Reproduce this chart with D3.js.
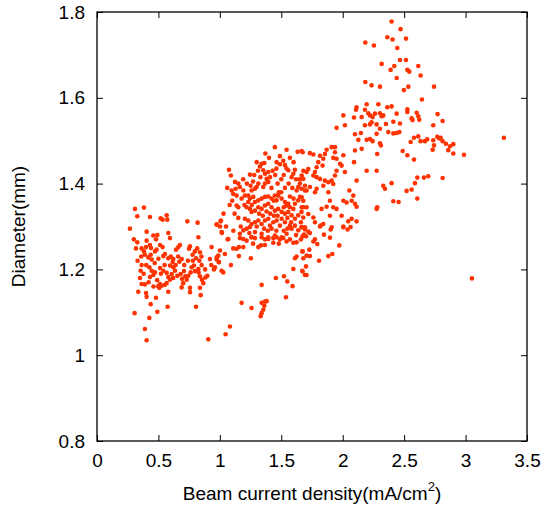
<!DOCTYPE html>
<html>
<head>
<meta charset="utf-8">
<script src="https://cdn.jsdelivr.net/npm/d3@7"></script>
<style>
  html, body { margin: 0; padding: 0; background: #fff; }
  svg { display: block; font-family: "Liberation Sans", Arial, sans-serif; }
</style>
</head>
<body>
<svg id="chart" width="544" height="506"></svg>
<script>
// ---- Data (beam current density mA/cm^2, diameter mm) ----
const xTicks = [0, 0.5, 1, 1.5, 2, 2.5, 3, 3.5];
const yTicks = [0.8, 1, 1.2, 1.4, 1.6, 1.8];
const xLabel = "Beam current density(mA/cm";
const xLabelSup = "2";
const yLabel = "Diameter(mm)";

const lowGroup = [
[0.309,1.341],[0.382,1.344],[0.328,1.324],[0.431,1.322],[0.518,1.319],[0.534,1.316],[0.567,1.326],[0.572,1.316],[0.268,1.295],[0.735,1.312],[0.819,1.309],[0.974,1.304],
[0.404,1.288],[0.458,1.279],[0.491,1.280],[0.580,1.285],[0.594,1.273],[0.825,1.275],[0.328,1.263],[0.404,1.267],[0.431,1.257],[0.399,1.252],[0.513,1.257],[0.534,1.252],[0.485,1.246],[0.472,1.242],[0.675,1.257],[0.662,1.252],[0.643,1.246],[0.757,1.254],[0.749,1.248],[0.816,1.249],[0.797,1.242],[0.838,1.240],[0.933,1.252],[0.317,1.249],[0.363,1.249],
[0.382,1.242],[0.390,1.234],[0.418,1.228],[0.437,1.234],[0.445,1.223],[0.553,1.236],[0.540,1.231],[0.580,1.226],[0.616,1.217],[0.621,1.224],[0.689,1.224],[0.670,1.218],[0.778,1.234],[0.806,1.226],[0.833,1.220],[0.852,1.210],[0.974,1.228],[0.990,1.217],[0.919,1.224],[0.363,1.210],[0.355,1.197],[0.960,1.205],[0.952,1.200],
[0.426,1.205],[0.445,1.197],[0.458,1.187],[0.431,1.182],[0.472,1.193],[0.513,1.203],[0.540,1.197],[0.567,1.192],[0.594,1.209],[0.621,1.205],[0.635,1.197],[0.608,1.189],[0.580,1.182],[0.594,1.176],[0.567,1.168],[0.553,1.164],[0.526,1.162],[0.507,1.157],[0.654,1.185],[0.681,1.189],[0.708,1.196],[0.719,1.184],[0.692,1.178],[0.702,1.168],[0.730,1.176],[0.743,1.185],[0.762,1.193],[0.770,1.205],[0.789,1.209],[0.797,1.196],[0.827,1.193],[0.838,1.184],[0.854,1.176],[0.865,1.168],[0.882,1.181],[0.898,1.185],[0.825,1.201],
[0.363,1.166],[0.390,1.165],[0.336,1.148],[0.399,1.145],[0.404,1.136],[0.480,1.134],[0.513,1.166],[0.499,1.161],[0.580,1.148],[0.689,1.158],[0.757,1.157],[0.757,1.147],[0.838,1.157],[0.844,1.140],
[0.437,1.119],[0.491,1.101],[0.575,1.113],[0.806,1.113],[0.306,1.098],[0.426,1.087],[0.390,1.061],[0.404,1.035],[0.906,1.037],
[0.974,1.305],[1.006,1.312],[1.017,1.285],
[0.36,1.23],[0.40,1.21],[0.44,1.25],[0.47,1.215],[0.50,1.225],[0.52,1.19],[0.49,1.175],[0.46,1.16],[0.42,1.17],[0.38,1.19],[0.35,1.18],[0.33,1.22],[0.30,1.27],[0.48,1.27],[0.55,1.21],[0.60,1.23],[0.64,1.21],[0.66,1.23],[0.71,1.21],[0.74,1.22],[0.78,1.22],[0.85,1.23],[0.88,1.20],[0.93,1.21],[0.62,1.18]
];

const midGroup = [
[1.448,1.485],[1.543,1.479],[1.633,1.474],[1.665,1.476],[1.489,1.464],[1.340,1.446],[1.362,1.448],[1.326,1.440],[1.462,1.450],[1.489,1.445],[1.516,1.453],[1.530,1.443],[1.543,1.435],[1.557,1.431],[1.611,1.432],[1.598,1.423],[1.584,1.415],
[1.074,1.432],[1.090,1.419],[1.245,1.421],[1.353,1.431],[1.367,1.423],[1.394,1.427],[1.408,1.415],[1.381,1.411],[1.394,1.404],[1.367,1.400],[1.353,1.392],[1.313,1.400],[1.299,1.392],[1.286,1.388],[1.258,1.384],
[1.123,1.404],[1.150,1.400],[1.163,1.392],[1.128,1.388],[1.096,1.384],[1.109,1.376],[1.136,1.372],[1.191,1.384],[1.204,1.372],[1.177,1.365],[1.231,1.372],[1.245,1.365],[1.272,1.369],[1.286,1.357],[1.313,1.361],[1.340,1.365],[1.367,1.369],[1.394,1.370],[1.421,1.365],[1.448,1.372],[1.462,1.361],[1.475,1.372],[1.503,1.365],[1.530,1.357],[1.543,1.349],[1.557,1.353],[1.570,1.345],[1.598,1.341],[1.611,1.353],[1.638,1.361],[1.652,1.369],[1.625,1.384],[1.638,1.392],[1.652,1.400],[1.665,1.388],[1.693,1.384],
[1.136,1.349],[1.231,1.357],[1.218,1.345],[1.245,1.341],[1.258,1.334],[1.286,1.337],[1.313,1.345],[1.340,1.341],[1.367,1.349],[1.394,1.353],[1.421,1.345],[1.448,1.337],[1.475,1.341],[1.503,1.334],[1.530,1.330],[1.557,1.334],[1.584,1.326],[1.611,1.318],[1.638,1.326],[1.665,1.334],[1.679,1.345],
[1.204,1.318],[1.231,1.314],[1.258,1.306],[1.245,1.299],[1.218,1.295],[1.191,1.291],[1.163,1.283],[1.286,1.310],[1.313,1.314],[1.340,1.306],[1.367,1.314],[1.394,1.318],[1.408,1.302],[1.421,1.295],[1.435,1.310],[1.462,1.314],[1.489,1.302],[1.503,1.318],[1.530,1.310],[1.570,1.302],[1.584,1.295],[1.611,1.302],[1.638,1.291],[1.665,1.299],
[1.543,1.283],[1.503,1.275],[1.448,1.279],[1.394,1.275],[1.340,1.283],[1.286,1.287],[1.258,1.275],[1.009,1.314],[1.001,1.300],[1.014,1.287],[1.069,1.271],[1.150,1.345],
[1.063,1.270],[1.163,1.273],[1.191,1.271],[1.218,1.267],[1.258,1.275],[1.286,1.273],[1.340,1.275],[1.367,1.270],[1.394,1.271],[1.435,1.273],[1.462,1.275],[1.489,1.270],[1.516,1.273],[1.543,1.265],[1.570,1.270],[1.598,1.262],[1.625,1.263],[1.660,1.270],
[1.001,1.244],[0.987,1.232],[0.974,1.223],[0.993,1.217],[1.014,1.197],[1.028,1.193],[1.041,1.236],[1.090,1.210],[1.109,1.249],[1.136,1.248],[1.155,1.252],[1.191,1.252],[1.155,1.231],[1.253,1.226],[1.313,1.252],[1.334,1.256],[1.367,1.257],[1.435,1.262],
[1.671,1.242],[1.611,1.226],[1.625,1.230],[1.598,1.201],[1.671,1.197],[1.693,1.187],[1.456,1.180],[1.522,1.184],[1.549,1.172],[1.592,1.161],[1.538,1.135],[1.340,1.164],
[1.177,1.122],[1.258,1.110],[1.340,1.122],[1.367,1.125],[1.381,1.126],[1.362,1.115],[1.353,1.106],[1.340,1.098],[1.332,1.091],[1.082,1.067],[1.047,1.049],
[1.47,1.40],[1.50,1.41],[1.53,1.39],[1.56,1.40],[1.59,1.39],[1.62,1.41],[1.52,1.42],[1.45,1.42],[1.48,1.38],[1.42,1.39],[1.44,1.36],[1.50,1.38],[1.57,1.37],[1.60,1.365],[1.43,1.43],[1.46,1.435],[1.28,1.42],[1.31,1.43],[1.22,1.40],[1.25,1.395],[1.19,1.41],[1.27,1.405],[1.33,1.415],[1.20,1.35],[1.26,1.35],[1.32,1.33],[1.35,1.325],[1.38,1.335],[1.41,1.33],[1.44,1.325],[1.47,1.325],[1.52,1.345],[1.55,1.32],[1.58,1.31],[1.30,1.30],[1.36,1.295],[1.39,1.29],[1.46,1.29],[1.52,1.29],[1.55,1.295],[1.62,1.28],[1.48,1.26],[1.27,1.26],[1.24,1.285],[1.17,1.30],[1.15,1.32],[1.12,1.33],[1.10,1.36],[1.06,1.39],[1.08,1.35],[1.03,1.33],[1.05,1.30],[1.11,1.29],[1.65,1.41],[1.68,1.43],[1.60,1.45],[1.57,1.46],[1.40,1.46],[1.37,1.47],[1.30,1.45]
];

const highGroup = [
[2.113,1.578],[2.108,1.572],[2.195,1.585],[2.290,1.585],[2.363,1.578],[2.005,1.559],[2.092,1.554],[2.154,1.555],[2.181,1.572],[2.208,1.564],[2.222,1.559],[2.243,1.555],[2.262,1.563],[2.303,1.564],[2.317,1.557],[2.330,1.559],
[2.235,1.543],[2.276,1.538],[2.222,1.538],[2.181,1.536],[2.303,1.528],[2.352,1.539],[2.371,1.520],[2.276,1.516],[2.148,1.518],[2.100,1.515],[2.222,1.504],[2.243,1.499],[2.303,1.494],[2.311,1.489],[2.281,1.469],[2.195,1.502],[2.127,1.502],[2.154,1.481],[2.100,1.477],[1.950,1.530],[2.018,1.536],
[1.937,1.485],[1.910,1.485],[1.869,1.479],[1.855,1.469],[1.815,1.465],[1.761,1.468],[1.733,1.471],[1.674,1.473],[1.937,1.473],[1.923,1.460],[1.950,1.458],[2.005,1.466],[1.978,1.446],[1.991,1.442],[2.018,1.427],[1.950,1.430],[1.937,1.419],[1.910,1.407],[1.923,1.399],[1.883,1.403],[1.855,1.407],[1.842,1.395],[1.815,1.411],[1.788,1.415],[1.774,1.427],[1.761,1.419],[1.720,1.434],[1.706,1.427],[1.679,1.411],[1.666,1.419],
[1.801,1.450],[1.842,1.458],[1.836,1.442],[1.788,1.438],[1.693,1.395],[1.706,1.384],[1.733,1.392],[1.788,1.388],[1.774,1.380],[1.883,1.380],[1.896,1.360],[1.923,1.345],[1.950,1.341],[2.005,1.360],[2.032,1.356],[2.073,1.360],[2.100,1.353],[2.113,1.346],[2.054,1.384],[2.086,1.372],[2.113,1.407],[2.092,1.450],[2.195,1.430],[2.276,1.430],[2.344,1.388],[2.330,1.395],[2.281,1.345],[2.276,1.341],
[1.666,1.368],[1.679,1.360],[1.706,1.345],[1.720,1.329],[1.679,1.321],[1.761,1.321],[1.774,1.310],[1.815,1.300],[1.842,1.306],[1.896,1.325],[1.910,1.298],[1.991,1.325],[2.045,1.312],[2.073,1.318],[2.005,1.300],[2.113,1.312],[1.869,1.346],[1.828,1.341],[1.666,1.345],[1.660,1.310],[1.693,1.298],
[1.666,1.298],[1.693,1.293],[1.720,1.288],[1.733,1.285],[1.685,1.281],[1.674,1.277],[1.701,1.277],[1.820,1.302],[1.902,1.293],[1.847,1.281],[1.896,1.274],[1.774,1.270],[1.761,1.265],[1.793,1.259],[1.972,1.256],[1.674,1.242],[1.728,1.246],[1.706,1.232],[1.733,1.231],[1.679,1.226],[1.807,1.220],[1.883,1.231],[1.915,1.236],[1.701,1.207],[1.674,1.195],[1.706,1.187],[2.005,1.298],[2.040,1.293],[2.064,1.299],
[2.398,1.778],[2.471,1.760],[2.363,1.741],[2.406,1.736],[2.515,1.738],[2.184,1.729],[2.254,1.722],[2.444,1.716],[2.466,1.688],[2.515,1.688],[2.317,1.679],[2.420,1.674],[2.390,1.665],[2.526,1.665],[2.542,1.661],[2.615,1.674],[2.634,1.652],[2.439,1.646],[2.184,1.637],[2.235,1.629],[2.303,1.626],[2.534,1.626],[2.498,1.618],[2.743,1.626],[2.645,1.596],
[2.398,1.580],[2.526,1.573],[2.526,1.567],[2.602,1.565],[2.615,1.557],[2.772,1.562],[2.813,1.546],[2.737,1.536],[2.412,1.544],[2.439,1.563],[2.466,1.540],[2.561,1.552],[2.569,1.548],[2.623,1.549],
[2.412,1.517],[2.439,1.518],[2.461,1.520],[2.488,1.476],[2.526,1.466],[2.580,1.456],[2.553,1.497],[2.580,1.507],[2.615,1.510],[2.634,1.499],[2.669,1.499],[2.688,1.503],[2.737,1.501],[2.770,1.509],[2.786,1.505],[2.797,1.507],[2.813,1.499],[2.840,1.493],[2.873,1.487],[2.900,1.492],[2.859,1.478],[2.900,1.470],[2.987,1.467],[2.743,1.489],[2.732,1.479],[3.312,1.507],
[2.398,1.401],[2.412,1.359],[2.455,1.357],[2.520,1.383],[2.561,1.386],[2.588,1.401],[2.607,1.414],[2.661,1.414],[2.696,1.417],[2.813,1.413],[2.607,1.365],[3.052,1.179]
];

// ---- Layout ----
const svg = d3.select("#chart");
const x = d3.scaleLinear().domain([0, 3.5]).range([97, 527]);
const y = d3.scaleLinear().domain([0.8, 1.8]).range([441, 12]);
const fmt = d => String(d);

const tickFont = 19;

// Points
const allPoints = lowGroup.concat(midGroup, highGroup);
svg.append("g")
  .selectAll("circle")
  .data(allPoints)
  .join("circle")
  .attr("cx", d => x(d[0]))
  .attr("cy", d => y(d[1]))
  .attr("r", 2.3)
  .attr("fill", "#ff3300");

// Axes (ticks inward on all four sides)
function styleAxis(g) {
  g.select(".domain").remove();
  g.selectAll(".tick line").attr("stroke", "#000").attr("stroke-width", 1);
  g.selectAll(".tick text").attr("font-size", tickFont).attr("fill", "#000")
    .attr("font-family", "'Liberation Sans', Arial, sans-serif");
}

svg.append("g").attr("transform", "translate(0,441)")
  .call(d3.axisBottom(x).tickValues(xTicks).tickFormat(fmt).tickSize(-6).tickPadding(13))
  .call(styleAxis);
svg.append("g").attr("transform", "translate(0,12)")
  .call(d3.axisTop(x).tickValues(xTicks).tickFormat("").tickSize(-6))
  .call(styleAxis);
svg.append("g").attr("transform", "translate(97,0)")
  .call(d3.axisLeft(y).tickValues(yTicks).tickFormat(fmt).tickSize(-6).tickPadding(12))
  .call(styleAxis);
svg.append("g").attr("transform", "translate(527,0)")
  .call(d3.axisRight(y).tickValues(yTicks).tickFormat("").tickSize(-6))
  .call(styleAxis);

// Frame
svg.append("rect")
  .attr("x", x(0)).attr("y", y(1.8))
  .attr("width", x(3.5) - x(0)).attr("height", y(0.8) - y(1.8))
  .attr("fill", "none").attr("stroke", "#000").attr("stroke-width", 1.3);

// Axis titles
const xt = svg.append("text")
  .attr("x", (x(0) + x(3.5)) / 2).attr("y", 500)
  .attr("text-anchor", "middle").attr("font-size", 19).attr("fill", "#000");
xt.append("tspan").text(xLabel);
xt.append("tspan").attr("dy", -9).attr("font-size", 13).text(xLabelSup);
xt.append("tspan").attr("dy", 9).text(")");

svg.append("text")
  .attr("transform", `translate(25,${(y(0.8) + y(1.8)) / 2}) rotate(-90)`)
  .attr("text-anchor", "middle").attr("font-size", 19).attr("fill", "#000")
  .text(yLabel);
</script>
</body>
</html>
